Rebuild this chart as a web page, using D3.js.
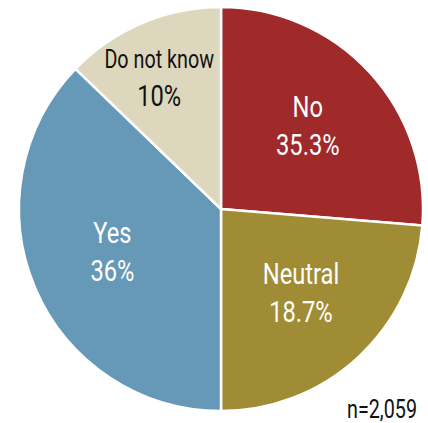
<!DOCTYPE html>
<html lang="en">
    <head>
        <meta charset="utf-8">
        <title>Survey pie</title>
        <script src="https://d3js.org/d3.v7.min.js"></script>
        <style type="text/css">
            body{
              margin: 0;
              background: white;
            }
            .labels{
              font-family: Roboto, "Liberation Sans", sans-serif;
            }
        </style>
    </head>
    <body>
        <script type="text/javascript">
            // Data
            const categories = ["No", "Neutral", "Yes", "Do not know"];
            // printed percentages
            const percentLabels = ["35.3%", "18.7%", "36%", "10%"];
            // slice shares as drawn in the picture
            const shares = [26.3, 23.7, 37.2, 12.8];
            const sampleNote = "n=2,059";

            const data = categories.map((c, i) => ({Type: c, Label: percentLabels[i], Share: shares[i]}));

            //constants
            const w = 428;
            const h = 423;
            const cx = 221;
            const cy = 209;
            const outerRadius = 202;
            const squeeze = 0.79;   // condensed look

            //colors
            const myColor = d3.scaleOrdinal()
                              .domain(categories)
                              .range(["#a0292a", "#a08c35", "#6698b8", "#ddd8bd"]);
            const textColor = d3.scaleOrdinal()
                              .domain(categories)
                              .range(["white", "white", "white", "#111"]);

            const arc = d3.arc()
                          .innerRadius(0)
                          .outerRadius(outerRadius);

            // small slices get their label pushed outward
            const isSmall = d => d.data.Share < 15;
            const labelR = d => isSmall(d) ? 140 : 118;
            const labelArc = d3.arc()
                          .innerRadius(labelR)
                          .outerRadius(labelR);

            const pie = d3.pie().value(d => d.Share).sort(null);

            //SVG
            const svg = d3.select("body")
                          .append("svg")
                          .attr("width", w)
                          .attr("height", h);

            const groups = svg.selectAll("g.arc")
                          .data(pie(data))
                          .enter()
                          .append("g")
                          .attr("class", "arc")
                          .attr("transform", "translate(" + cx + "," + cy + ")");

            groups.append("path")
                  .attr("fill", d => myColor(d.data.Type))
                  .attr("stroke", "white")
                  .attr("stroke-width", 2.5)
                  .attr("stroke-linejoin", "round")
                  .attr("d", arc);

            //labels: category on top, percent below
            const labels = groups.append("text")
                  .attr("class", "labels")
                  .attr("transform", d => {
                      const [x, y] = labelArc.centroid(d);
                      // keep the narrow slice's label clear of its edge
                      return "translate(" + (isSmall(d) ? x - 7 : x) + "," + y + ") scale(" + squeeze + ",1)";
                  })
                  .attr("text-anchor", "middle")
                  .attr("fill", d => textColor(d.data.Type));

            labels.append("tspan")
                  .attr("x", 0)
                  .attr("y", -12)
                  .attr("font-size", d => d.data.Type.length > 8 ? "25px" : "30px")
                  .text(d => d.data.Type);

            labels.append("tspan")
                  .attr("x", 0)
                  .attr("y", 26)
                  .attr("font-size", "30px")
                  .text(d => d.data.Label);

            //sample size
            svg.append("text")
                .attr("class", "labels")
                .attr("transform", "translate(417,418) scale(" + squeeze + ",1)")
                .attr("text-anchor", "end")
                .attr("font-size", "25px")
                .attr("fill", "#111")
                .text(sampleNote);
        </script>
    </body>
</html>
